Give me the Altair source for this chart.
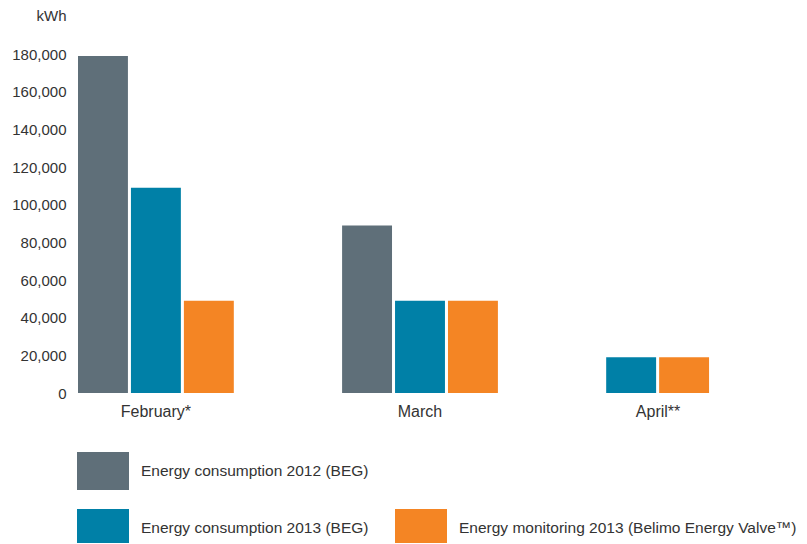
import altair as alt
import pandas as pd

months = ["February*", "March", "April**"]
series = [
    "Energy consumption 2012 (BEG)",
    "Energy consumption 2013 (BEG)",
    "Energy monitoring 2013 (Belimo Energy Valve™)",
]
values_2012 = [179000, 89000, None]
values_2013 = [109000, 49000, 19000]
values_monitor = [49000, 49000, 19000]
colors = ["#5f6f79", "#0080a7", "#f48524"]
y_ticks = [0, 20000, 40000, 60000, 80000, 100000, 120000, 140000, 160000, 180000]

# bars present in a month are packed side by side from the left of its group
rows = []
for mi, m in enumerate(months):
    slot = 0
    for s, vals in zip(series, [values_2012, values_2013, values_monitor]):
        v = vals[mi]
        if v is not None:
            rows.append({"month": m, "series": s, "value": v, "slot": slot})
            slot += 1
df = pd.DataFrame(rows)

FONT = "Liberation Sans"
TXT = "#333333"

legend_domain = [series[0], series[1], " ", series[2]]
legend_range = [colors[0], colors[1], "#ffffff", colors[2]]

chart = alt.Chart(df).mark_bar().encode(
    x=alt.X(
        "month:N",
        sort=months,
        scale=alt.Scale(paddingInner=0.41, paddingOuter=0),
        axis=alt.Axis(
            title=None, labelAngle=0, domain=False, ticks=False, labelPadding=10,
            labelFont=FONT, labelFontSize=16, labelColor=TXT,
            labelOffset={"condition": {"test": "datum.value == 'April**'", "value": -26}, "value": 0},
        ),
    ),
    xOffset=alt.XOffset(
        "slot:O",
        scale=alt.Scale(domain=[0, 1, 2], paddingInner=0.057, paddingOuter=0),
    ),
    y=alt.Y(
        "value:Q",
        scale=alt.Scale(domain=[0, 180000], nice=False),
        axis=alt.Axis(
            title="kWh", titleAngle=0, titleAlign="right", titleBaseline="middle",
            titleX=-12, titleY=-39, titleFont=FONT, titleFontSize=15,
            titleFontWeight="normal", titleColor=TXT,
            values=y_ticks, format=",d", domain=False, ticks=False, grid=False,
            labelPadding=12, labelFont=FONT, labelFontSize=15, labelColor=TXT,
        ),
    ),
    color=alt.Color(
        "series:N",
        scale=alt.Scale(domain=legend_domain, range=legend_range),
        legend=alt.Legend(
            title=None, orient="none", legendX=-1, legendY=391, columns=2,
            columnPadding=26, rowPadding=12, padding=0,
            symbolType="M-1,-0.73L1,-0.73L1,0.73L-1,0.73Z", symbolSize=2704,
            symbolStrokeWidth=0, symbolOpacity=1, labelOffset=12, labelLimit=500,
            labelFont=FONT, labelFontSize=15.5, labelColor=TXT,
        ),
    ),
).properties(
    width=684, height=339,
    autosize=alt.AutoSizeParams(type="none"),
    padding={"left": 70, "top": 46, "right": 37, "bottom": 150},
).configure_view(stroke=None)

chart.save("out.html", embed_options={"renderer": "svg", "actions": False})
